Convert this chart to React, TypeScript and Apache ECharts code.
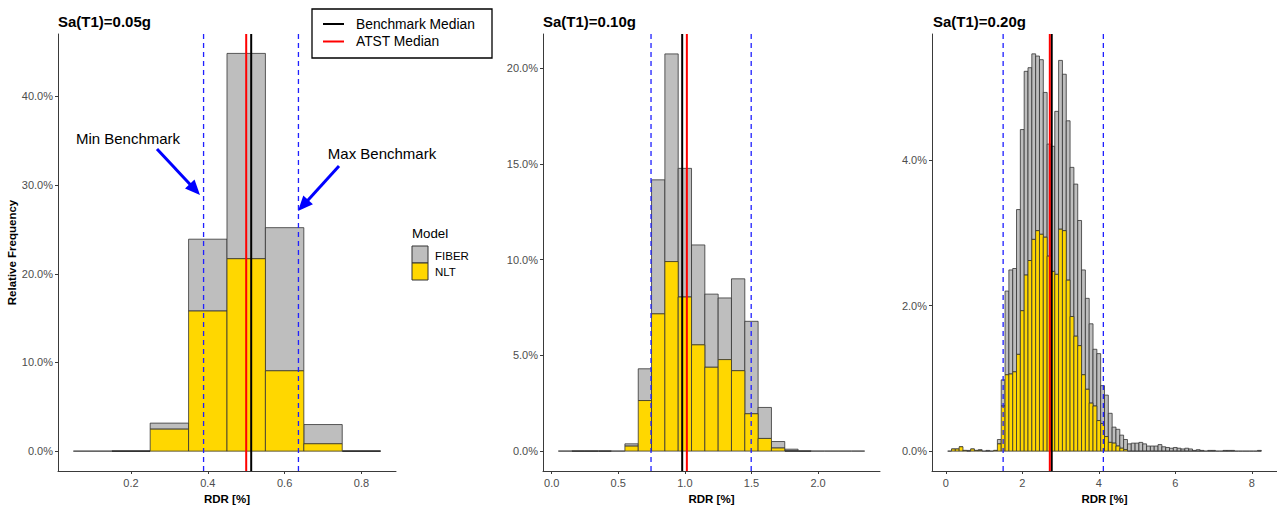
import React, { useEffect, useRef } from "react";
import * as echarts from "echarts";

// Histogram bins are 0.1 wide (RDR in %); values are relative frequency in %.
const BIN_WIDTH = 0.1;

// Sa(T1)=0.05g
const centers005 = [0.1, 0.2, 0.3, 0.4, 0.5, 0.6, 0.7, 0.8];
const nlt005 = [0, 0, 2.48, 15.8, 21.7, 9.06, 0.83, 0];
const fiber005 = [0, 0.04, 0.68, 8.1, 23.15, 16.14, 2.17, 0.04];
const benchRange005 = [0.389, 0.636];
const benchMedian005 = 0.513;
const atstMedian005 = 0.5;

// Sa(T1)=0.10g
const centers010 = [
  0.1, 0.2, 0.3, 0.4, 0.5, 0.6, 0.7, 0.8, 0.9, 1.0, 1.1, 1.2, 1.3, 1.4, 1.5, 1.6,
  1.7, 1.8, 1.9, 2.0, 2.1, 2.2, 2.3,
];
const nlt010 = [
  0, 0, 0, 0, 0, 0.26, 2.64, 7.17, 9.9, 8.05, 5.55, 4.38, 4.78, 4.2, 1.95, 0.66,
  0.16, 0.02, 0, 0, 0, 0, 0,
];
const fiber010 = [
  0, 0.02, 0.02, 0.02, 0, 0.12, 1.66, 7.0, 10.85, 6.72, 5.22, 3.82, 3.22, 4.8,
  4.83, 1.62, 0.34, 0.08, 0.03, 0, 0, 0, 0,
];
const benchRange010 = [0.746, 1.498];
const benchMedian010 = 0.98;
const atstMedian010 = 1.015;

// Sa(T1)=0.20g
const centers020 = [
  0.1, 0.2, 0.3, 0.4, 0.5, 0.6, 0.7, 0.8, 0.9, 1.0, 1.1, 1.2, 1.3, 1.4, 1.5, 1.6,
  1.7, 1.8, 1.9, 2.0, 2.1, 2.2, 2.3, 2.4, 2.5, 2.6, 2.7, 2.8, 2.9, 3.0, 3.1, 3.2,
  3.3, 3.4, 3.5, 3.6, 3.7, 3.8, 3.9, 4.0, 4.1, 4.2, 4.3, 4.4, 4.5, 4.6, 4.7, 4.8,
  4.9, 5.0, 5.1, 5.2, 5.3, 5.4, 5.5, 5.6, 5.7, 5.8, 5.9, 6.0, 6.1, 6.2, 6.3, 6.4,
  6.5, 6.6, 6.7, 6.8, 6.9, 7.0, 7.1, 7.2, 7.3, 7.4, 7.5, 7.6, 7.7, 7.8, 7.9, 8.0,
  8.1, 8.2,
];
const nlt020 = [
  0, 0.03, 0.03, 0.06, 0.01, 0, 0.03, 0.01, 0.01, 0, 0, 0, 0.01, 0.1, 0.62, 1.05,
  1.06, 1.09, 1.33, 1.93, 2.42, 2.62, 2.91, 3.03, 2.98, 2.94, 2.68, 2.47, 2.43,
  3.05, 3.03, 2.35, 1.85, 1.58, 1.45, 1.05, 0.85, 0.66, 0.62, 0.42, 0.38, 0.2,
  0.12, 0.11, 0.07, 0.04, 0.02, 0, 0, 0, 0, 0, 0, 0, 0, 0, 0, 0, 0, 0, 0, 0, 0, 0,
  0, 0, 0, 0, 0, 0, 0, 0, 0, 0, 0, 0, 0, 0, 0, 0, 0, 0,
];
const fiber020 = [
  0, 0, 0, 0, 0, 0.01, 0, 0, 0.01, 0, 0.01, 0, 0, 0.06, 0.36, 1.15, 1.43, 1.42,
  1.99, 2.49, 2.8, 2.65, 2.55, 2.4, 2.4, 1.99, 1.54, 1.72, 2.24, 2.32, 2.15, 2.19,
  2.05, 2.09, 1.72, 1.44, 1.25, 1.09, 0.78, 0.92, 0.52, 0.57, 0.4, 0.22, 0.23,
  0.18, 0.14, 0.1, 0.11, 0.11, 0.12, 0.1, 0.07, 0.07, 0.07, 0.09, 0.06, 0.05, 0.04,
  0.05, 0.04, 0.03, 0.04, 0.03, 0.01, 0.02, 0.01, 0, 0.01, 0.01, 0, 0, 0.01, 0.01,
  0.01, 0, 0, 0, 0, 0, 0, 0.01,
];
const benchRange020 = [1.5, 4.12];
const benchMedian020 = 2.77;
const atstMedian020 = 2.72;

// Axis ticks
const xTicks005 = [0.2, 0.4, 0.6, 0.8];
const xTicks010 = [0, 0.5, 1.0, 1.5, 2.0];
const xTicks020 = [0, 2, 4, 6, 8];
const yTicks005 = [0, 10, 20, 30, 40];
const yTicks010 = [0, 5, 10, 15, 20];
const yTicks020 = [0, 2, 4];

const titles = ["Sa(T1)=0.05g", "Sa(T1)=0.10g", "Sa(T1)=0.20g"];

const FONT = "'Liberation Sans', Arial, Helvetica, sans-serif";
const GREY = "#BEBEBE";
const GOLD = "#FFD700";
const EDGE = "#333333";
const AXIS = "#3a3a3a";
const TICK_TEXT = "#4d4d4d";

type Panel = {
  centers: number[];
  nlt: number[];
  fiber: number[];
  benchRange: number[];
  benchMedian: number;
  atstMedian: number;
  xTicks: number[];
  yTicks: number[];
  xMin: number;
  xMax: number;
  yMin: number;
  yMax: number;
  xDigits: number;
  grid: { left: number; top: number; width: number; height: number };
};

const panels: Panel[] = [
  {
    centers: centers005, nlt: nlt005, fiber: fiber005,
    benchRange: benchRange005, benchMedian: benchMedian005, atstMedian: atstMedian005,
    xTicks: xTicks005, yTicks: yTicks005,
    xMin: 0.01, xMax: 0.89, yMin: -2.24, yMax: 47.04, xDigits: 1,
    grid: { left: 58, top: 34, width: 338, height: 437 },
  },
  {
    centers: centers010, nlt: nlt010, fiber: fiber010,
    benchRange: benchRange010, benchMedian: benchMedian010, atstMedian: atstMedian010,
    xTicks: xTicks010, yTicks: yTicks010,
    xMin: -0.065, xMax: 2.465, yMin: -1.04, yMax: 21.79, xDigits: 1,
    grid: { left: 543, top: 34, width: 337, height: 437 },
  },
  {
    centers: centers020, nlt: nlt020, fiber: fiber020,
    benchRange: benchRange020, benchMedian: benchMedian020, atstMedian: atstMedian020,
    xTicks: xTicks020, yTicks: yTicks020,
    xMin: -0.36, xMax: 8.66, yMin: -0.273, yMax: 5.733, xDigits: 0,
    grid: { left: 932, top: 34, width: 345, height: 437 },
  },
];

// Histogram rectangle drawn through the grid's own scales.
const binRenderer = (fill: string) => (_params: any, api: any) => {
  const a = api.coord([api.value(0), api.value(2)]);
  const b = api.coord([api.value(1), api.value(3)]);
  const h = a[1] - b[1];
  if (h < 0.7) {
    const hasCount = api.value(3) > api.value(2);
    return {
      type: "line",
      shape: { x1: a[0], y1: a[1], x2: b[0], y2: a[1] },
      style: { stroke: EDGE, lineWidth: hasCount ? 1.6 : 0.8 },
    };
  }
  return {
    type: "rect",
    shape: { x: a[0], y: b[1], width: b[0] - a[0], height: h },
    style: { fill, stroke: EDGE, lineWidth: 0.8 },
  };
};

// Vertical reference line spanning the whole panel height.
const vlineRenderer = (color: string, width: number, dash: number[] | null) =>
  (params: any, api: any) => {
    const p = api.coord([api.value(0), 0]);
    const cs = params.coordSys;
    return {
      type: "line",
      shape: { x1: p[0], y1: cs.y, x2: p[0], y2: cs.y + cs.height },
      style: { stroke: color, lineWidth: width, lineDash: dash || undefined },
    };
  };

const arrow = (tail: number[], tip: number[]) => {
  const dx = tip[0] - tail[0];
  const dy = tip[1] - tail[1];
  const len = Math.hypot(dx, dy);
  const ux = dx / len;
  const uy = dy / len;
  const headLen = 15;
  const half = 6.5;
  const bx = tip[0] - ux * headLen;
  const by = tip[1] - uy * headLen;
  return [
    {
      type: "line",
      shape: { x1: tail[0], y1: tail[1], x2: bx + ux * 2, y2: by + uy * 2 },
      style: { stroke: "#0000FF", lineWidth: 3 },
      silent: true,
    },
    {
      type: "polygon",
      shape: {
        points: [
          [tip[0], tip[1]],
          [bx - uy * half, by + ux * half],
          [bx + uy * half, by - ux * half],
        ],
      },
      style: { fill: "#0000FF" },
      silent: true,
    },
  ];
};

const text = (
  str: string, x: number, y: number, size: number, opts: any = {}
) => ({
  type: "text",
  x,
  y,
  silent: true,
  style: {
    text: str,
    font: `${opts.bold ? "bold " : ""}${size}px ${FONT}`,
    fill: opts.color || "#000",
    align: opts.align || "left",
    verticalAlign: "middle",
    textAlign: opts.align || "left",
    textVerticalAlign: "middle",
  },
});

export default function App() {
  const ref = useRef<HTMLDivElement>(null);

  useEffect(() => {
    if (!ref.current) return;
    const chart = echarts.init(ref.current, null, { renderer: "svg" });

    const grid = panels.map((p) => ({
      ...p.grid,
      containLabel: false,
      outerBoundsMode: "none",
    }));

    const xAxis = panels.map((p, i) => ({
      type: "value",
      gridIndex: i,
      min: p.xMin,
      max: p.xMax,
      splitLine: { show: false },
      axisLine: { show: true, onZero: false, lineStyle: { color: AXIS, width: 1 } },
      axisTick: { show: true, length: 3, customValues: p.xTicks, lineStyle: { color: AXIS } },
      axisLabel: {
        customValues: p.xTicks,
        color: TICK_TEXT,
        fontSize: 11,
        fontFamily: FONT,
        margin: 6,
        formatter: (v: number) => v.toFixed(p.xDigits),
      },
      name: "RDR [%]",
      nameLocation: "middle",
      nameGap: 18,
      nameTextStyle: { fontWeight: "bold", fontSize: 11.5, color: "#000", fontFamily: FONT },
    }));

    const yAxis = panels.map((p, i) => ({
      type: "value",
      gridIndex: i,
      min: p.yMin,
      max: p.yMax,
      splitLine: { show: false },
      axisLine: { show: true, onZero: false, lineStyle: { color: AXIS, width: 1 } },
      axisTick: { show: true, length: 3, customValues: p.yTicks, lineStyle: { color: AXIS } },
      axisLabel: {
        customValues: p.yTicks,
        color: TICK_TEXT,
        fontSize: 11,
        fontFamily: FONT,
        margin: 5,
        formatter: (v: number) => `${v.toFixed(1)}%`,
      },
      ...(i === 0
        ? {
            name: "Relative Frequency",
            nameLocation: "middle",
            nameGap: 35,
            nameTextStyle: { fontWeight: "bold", fontSize: 11.5, color: "#000", fontFamily: FONT },
          }
        : {}),
    }));

    const series: any[] = [];
    panels.forEach((p, i) => {
      const half = BIN_WIDTH / 2;
      const nltData = p.centers.map((c, k) => [c - half, c + half, 0, p.nlt[k]]);
      const fiberData = p.centers.map((c, k) => [
        c - half, c + half, p.nlt[k], p.nlt[k] + p.fiber[k],
      ]);
      series.push({
        name: "FIBER",
        type: "custom",
        xAxisIndex: i,
        yAxisIndex: i,
        renderItem: binRenderer(GREY),
        encode: { x: [0, 1], y: [2, 3] },
        data: fiberData,
        z: 2,
        silent: true,
      });
      series.push({
        name: "NLT",
        type: "custom",
        xAxisIndex: i,
        yAxisIndex: i,
        renderItem: binRenderer(GOLD),
        encode: { x: [0, 1], y: [2, 3] },
        data: nltData,
        z: 3,
        silent: true,
      });
      series.push({
        name: "Benchmark range",
        type: "custom",
        xAxisIndex: i,
        yAxisIndex: i,
        renderItem: vlineRenderer("#1f1fff", 1.3, [5, 4]),
        encode: { x: 0 },
        data: p.benchRange.map((v) => [v]),
        z: 4,
        silent: true,
      });
      series.push({
        name: "Benchmark Median",
        type: "custom",
        xAxisIndex: i,
        yAxisIndex: i,
        renderItem: vlineRenderer("#000000", 2, null),
        encode: { x: 0 },
        data: [[p.benchMedian]],
        z: 5,
        silent: true,
      });
      series.push({
        name: "ATST Median",
        type: "custom",
        xAxisIndex: i,
        yAxisIndex: i,
        renderItem: vlineRenderer("#FF0000", 2, null),
        encode: { x: 0 },
        data: [[p.atstMedian]],
        z: 6,
        silent: true,
      });
    });

    const graphic: any[] = [
      // panel titles
      text(titles[0], 58, 21, 15, { bold: true }),
      text(titles[1], 543, 21, 15, { bold: true }),
      text(titles[2], 933, 21, 15, { bold: true }),
      // annotations
      text("Min Benchmark", 128, 138, 15, { align: "center" }),
      text("Max Benchmark", 382, 153, 15, { align: "center" }),
      ...arrow([157, 149], [200, 195]),
      ...arrow([339, 166], [298, 211]),
      // median legend
      {
        type: "rect",
        shape: { x: 312, y: 9, width: 180, height: 49 },
        style: { fill: "#fff", stroke: "#000", lineWidth: 1.3 },
        silent: true,
      },
      {
        type: "line",
        shape: { x1: 323, y1: 24, x2: 344, y2: 24 },
        style: { stroke: "#000", lineWidth: 2 },
        silent: true,
      },
      {
        type: "line",
        shape: { x1: 323, y1: 41.5, x2: 344, y2: 41.5 },
        style: { stroke: "#FF0000", lineWidth: 2 },
        silent: true,
      },
      text("Benchmark Median", 356, 24, 13.8),
      text("ATST Median", 356, 41.5, 13.8),
      // fill legend
      text("Model", 412, 233, 13.3),
      {
        type: "rect",
        shape: { x: 412, y: 246, width: 16, height: 17 },
        style: { fill: GREY, stroke: EDGE, lineWidth: 1 },
        silent: true,
      },
      {
        type: "rect",
        shape: { x: 412, y: 263, width: 16, height: 17 },
        style: { fill: GOLD, stroke: EDGE, lineWidth: 1 },
        silent: true,
      },
      text("FIBER", 435, 255.5, 11.5),
      text("NLT", 435, 272, 11.5),
    ];

    chart.setOption({
      animation: false,
      backgroundColor: "#ffffff",
      textStyle: { fontFamily: FONT },
      grid,
      xAxis,
      yAxis,
      series,
      graphic,
    });

    return () => chart.dispose();
  }, []);

  return (
    <div
      ref={ref}
      style={{ position: "fixed", left: 0, top: 0, width: 1277, height: 505, background: "#fff" }}
    />
  );
}
